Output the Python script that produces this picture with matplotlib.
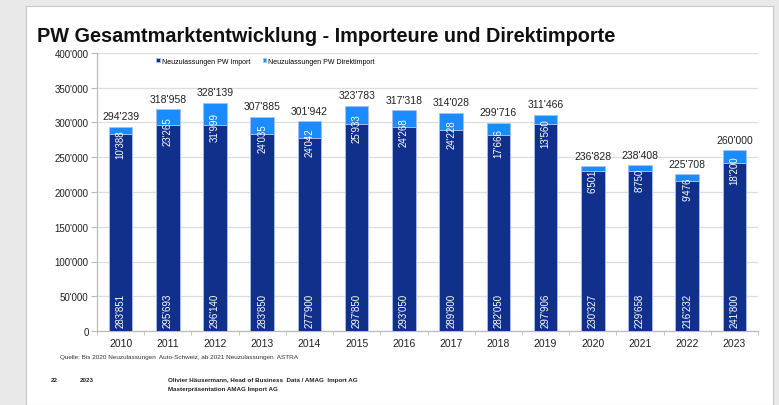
import matplotlib
matplotlib.use('Agg')
import matplotlib.pyplot as plt
from matplotlib.patches import Rectangle
from matplotlib.ticker import FuncFormatter, FixedLocator
import numpy as np

plt.rcParams['font.family'] = ['Liberation Sans', 'DejaVu Sans']

years = ['2010', '2011', '2012', '2013', '2014', '2015', '2016',
         '2017', '2018', '2019', '2020', '2021', '2022', '2023']
pw_import = [283851, 295693, 296140, 283850, 277900, 297850, 293050,
             289800, 282050, 297906, 230327, 229658, 216232, 241800]
pw_direkt = [10388, 23265, 31999, 24035, 24042, 25933, 24268,
             24228, 17666, 13560, 6501, 8750, 9476, 18200]

col_import = '#10308c'
col_direkt = '#1a8cff'


def fmt(v):
    return f'{int(v):,}'.replace(',', "'")


fig = plt.figure(figsize=(7.79, 4.06), dpi=100)
fig.patch.set_facecolor('#e9e9e9')

# white slide area with a slight shadow look
fig.add_artist(Rectangle((26 / 779, 0), (773 - 26) / 779, 1 - 7 / 406,
                         transform=fig.transFigure, facecolor='white',
                         edgecolor='#c8c8c8', linewidth=0.8, zorder=0))

ax = fig.add_axes([97 / 779, 1 - 332 / 406, (758 - 97) / 779, (332 - 54) / 406])
x = np.arange(len(years))
totals = [a + b for a, b in zip(pw_import, pw_direkt)]

ax.bar(x, pw_import, width=0.5, color=col_import, edgecolor='#aac0ee',
       linewidth=0.6, label='Neuzulassungen PW Import', zorder=3)
ax.bar(x, pw_direkt, bottom=pw_import, width=0.5, color=col_direkt,
       edgecolor='#aac0ee', linewidth=0.6,
       label='Neuzulassungen PW Direktimport', zorder=3)

for i in range(len(years)):
    ax.annotate(fmt(totals[i]), (x[i], totals[i]), xytext=(0, 4),
                textcoords='offset points', ha='center', va='bottom',
                fontsize=7.5, color='#222222')
    ax.annotate(fmt(pw_import[i]), (x[i], 0), xytext=(0, 3),
                textcoords='offset points', ha='center', va='bottom',
                rotation=90, fontsize=7, color='white', zorder=4)
    # direct label hangs from inside the light segment down into the dark one
    ax.annotate(fmt(pw_direkt[i]), (x[i], pw_import[i] + 0.6 * pw_direkt[i]),
                xytext=(0, 0), textcoords='offset points', ha='center',
                va='top', rotation=90, fontsize=7, color='white', zorder=4)

ax.set_xlim(-0.5, len(years) - 0.5)
ax.set_ylim(0, 400000)
ax.set_yticks(np.arange(0, 400001, 50000))
ax.yaxis.set_major_formatter(FuncFormatter(lambda v, p: fmt(v)))
ax.set_xticks(x)
ax.set_xticklabels(years)
ax.xaxis.set_minor_locator(FixedLocator(np.arange(-0.5, len(years), 1)))
ax.tick_params(axis='x', which='major', length=0, labelsize=7.5,
               pad=5, colors='#222222')
ax.tick_params(axis='x', which='minor', length=3, color='#bbbbbb')
ax.tick_params(axis='y', length=4, color='#bbbbbb', labelsize=7,
               labelcolor='#222222', pad=2)
ax.grid(axis='y', color='#dddddd', linewidth=0.9, zorder=0)
for s in ['top', 'right']:
    ax.spines[s].set_visible(False)
for s in ['left', 'bottom']:
    ax.spines[s].set_color('#bbbbbb')
    ax.spines[s].set_linewidth(0.9)
ax.set_facecolor('none')

ax.legend(loc='upper left', bbox_to_anchor=(0.08, 1.005), ncol=2,
          frameon=False, fontsize=5.0, handlelength=0.5, handleheight=0.5,
          handletextpad=0.3, columnspacing=1.8)

fig.text(37 / 779, 1 - 37 / 406,
         'PW Gesamtmarktentwicklung - Importeure und Direktimporte',
         fontsize=14.3, fontweight='bold', va='center', ha='left',
         color='#111111')
fig.text(60 / 779, 1 - 358 / 406,
         'Quelle: Bis 2020 Neuzulassungen  Auto-Schweiz, ab 2021 Neuzulassungen  ASTRA',
         fontsize=4.6, va='center', ha='left', color='#333333')
fig.text(51 / 779, 1 - 381 / 406, '22', fontsize=4.5, fontweight='bold',
         va='center', color='#222222')
fig.text(80 / 779, 1 - 381 / 406, '2023', fontsize=4.5, fontweight='bold',
         va='center', color='#222222')
fig.text(168 / 779, 1 - 381 / 406,
         'Olivier Häusermann, Head of Business  Data / AMAG  Import AG',
         fontsize=4.5, fontweight='bold', va='center', color='#222222')
fig.text(168 / 779, 1 - 390 / 406, 'Masterpräsentation AMAG Import AG',
         fontsize=4.5, fontweight='bold', va='center', color='#222222')

fig.savefig('out.png', dpi=100)
